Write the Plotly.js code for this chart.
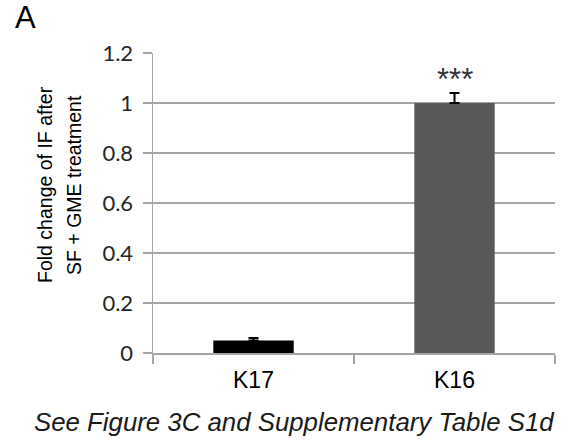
<!DOCTYPE html>
<html>
<head>
<meta charset="utf-8">
<script src="https://cdn.plot.ly/plotly-3.0.1.min.js"></script>
<style>html,body{margin:0;padding:0;background:#fff;}#chart{width:573px;height:440px;}</style>
</head>
<body>
<div id="chart"></div>
<script>
var categories = ["K17", "K16"];
var values = [0.05, 1.0];
var errors = [0.01, 0.04];
var barColors = ["#000000", "#595959"];
var yTicks = [0, 0.2, 0.4, 0.6, 0.8, 1, 1.2];
var yTickLabels = ["0", "0.2", "0.4", "0.6", "0.8", "1", "1.2"];
var significance = "***";

var trace = {
  type: "bar",
  x: categories,
  y: values,
  width: 0.4,
  marker: {color: barColors, line: {width: 0}},
  error_y: {
    type: "data",
    symmetric: false,
    array: errors,
    arrayminus: [0, 0],
    color: "#000000",
    thickness: 2,
    width: 5
  },
  hoverinfo: "none"
};

var gray = "#a6a6a6";
var layout = {
  width: 573,
  height: 440,
  margin: {l: 153, r: 18, t: 53, b: 87},
  paper_bgcolor: "#ffffff",
  plot_bgcolor: "#ffffff",
  showlegend: false,
  xaxis: {
    type: "category",
    range: [-0.5, 1.5],
    tickson: "boundaries",
    ticks: "outside",
    ticklen: 9,
    tickwidth: 1.5,
    tickcolor: gray,
    showgrid: false,
    showline: true,
    linecolor: gray,
    linewidth: 1.5,
    zeroline: false,
    tickfont: {family: "Liberation Sans, Arial, sans-serif", size: 23, color: "#000000"},
    ticklabelstandoff: 6
  },
  yaxis: {
    range: [0, 1.2],
    tickmode: "array",
    tickvals: yTicks,
    ticktext: yTickLabels,
    ticks: "outside",
    ticklen: 9,
    tickwidth: 1.5,
    tickcolor: gray,
    showgrid: true,
    gridcolor: gray,
    gridwidth: 1.5,
    showline: true,
    linecolor: gray,
    linewidth: 1.5,
    zeroline: false,
    tickfont: {family: "Lato, Open Sans, sans-serif", size: 22, color: "#262626"},
    ticklabelstandoff: 5
  },
  annotations: [
    {text: "A", xref: "paper", yref: "paper", x: (25 - 153) / 402, y: (353 - 18) / 300,
     xanchor: "center", yanchor: "middle", showarrow: false,
     font: {family: "Liberation Sans, Arial, sans-serif", size: 31, color: "#000000"}},
    {text: "Fold change of IF after", xref: "paper", yref: "paper", x: (45 - 153) / 402, y: (353 - 185) / 300,
     xanchor: "center", yanchor: "middle", textangle: -90, showarrow: false,
     font: {family: "Liberation Sans, Arial, sans-serif", size: 19.5, color: "#000000"}},
    {text: "SF + GME treatment", xref: "paper", yref: "paper", x: (74 - 153) / 402, y: (353 - 185) / 300,
     xanchor: "center", yanchor: "middle", textangle: -90, showarrow: false,
     font: {family: "Liberation Sans, Arial, sans-serif", size: 19.5, color: "#000000"}},
    {text: significance, xref: "x", yref: "paper", x: categories[1], y: (353 - 79) / 300,
     xanchor: "center", yanchor: "middle", showarrow: false,
     font: {family: "Liberation Sans, Arial, sans-serif", size: 31, color: "#333333"}},
    {text: "<i>See Figure 3C and Supplementary Table S1d</i>", xref: "paper", yref: "paper",
     x: (294 - 153) / 402, y: (353 - 422) / 300,
     xanchor: "center", yanchor: "middle", showarrow: false,
     font: {family: "Liberation Sans, Arial, sans-serif", size: 25.8, color: "#1a1a1a"}}
  ]
};

Plotly.newPlot("chart", [trace], layout, {staticPlot: true, displayModeBar: false});
</script>
</body>
</html>
